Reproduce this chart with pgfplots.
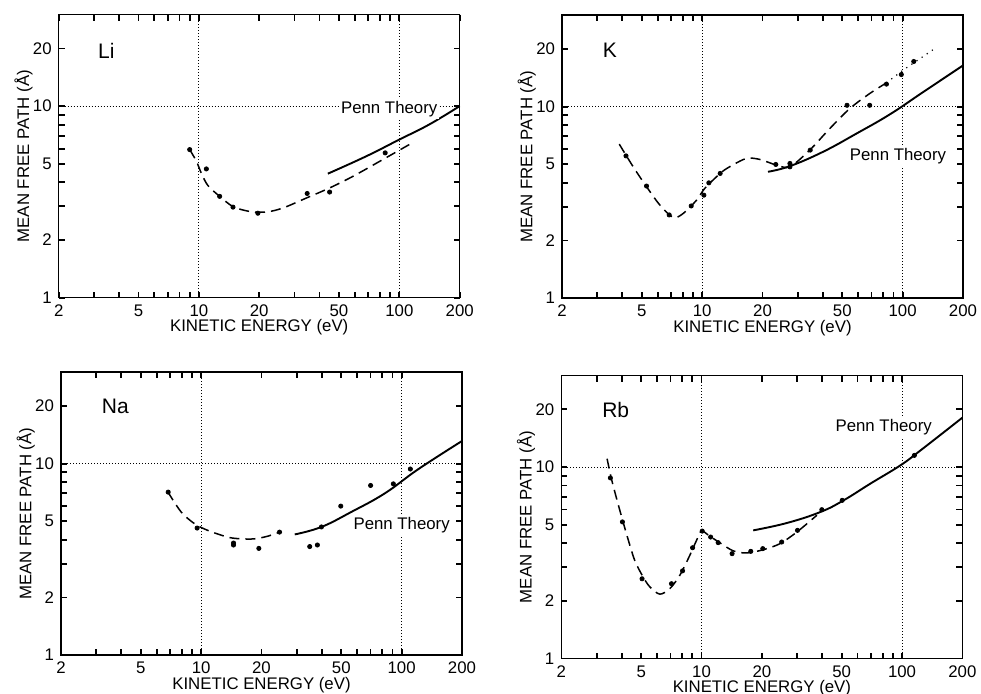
\documentclass[border=0pt]{standalone}
\usepackage{fontspec}
\setmainfont{Liberation Sans}
\usepackage{pgfplots}
\pgfplotsset{compat=1.18}

\tikzset{
  mfpgrid/.style={black, line width=0.5pt, dash pattern=on 0.5pt off 1pt},
  mfpexp/.style={black, line width=0.75pt, smooth, tension=0.5, dash pattern=on 5pt off 3pt},
  mfppenn/.style={black, line width=0.95pt, smooth, tension=0.7},
  mfpelem/.style={font=\fontsize{10.5}{12}\selectfont, anchor=west},
  mfplab/.style={fill=white, inner sep=1pt, font=\fontsize{8.4}{10}\selectfont},
  mfpfont/.style={font=\fontsize{8.4}{10}\selectfont},
}

\begin{document}
\begin{tikzpicture}
\useasboundingbox (0,0) rectangle (490.5pt,-347pt);

% Li
\begin{axis}[xmode=log, ymode=log, clip=false, at={(29.35pt,-148.85pt)}, anchor=south west,
  scale only axis, width=200.5pt, height=141.5pt, xmin=2, xmax=200, ymin=1, ymax=30,
  xtick={2,5,10,20,50,100,200}, xticklabels={2,5,10,20,50,100,200},
  minor xtick={3,4,6,7,8,9,30,40,60,70,80,90},
  ytick={1,2,5,10,20}, yticklabels={1,2,5,10,20}, minor ytick={3,4,6,7,8,9},
  tick align=inside, major tick length=3pt, minor tick length=3pt,
  tick style={black, line width=0.9pt}, axis line style={line width=0.75pt},
  tick label style={mfpfont},
  xlabel={KINETIC ENERGY (eV)}, ylabel={MEAN FREE PATH (Å)},
  x label style={at={(axis description cs:0.5,0)}, anchor=base, yshift=-17pt, mfpfont},
  y label style={at={(axis description cs:-0.074,0.5)}, anchor=base, mfpfont}]
\addplot[mfpgrid] coordinates {(10,1) (10,30)};
\addplot[mfpgrid] coordinates {(100,1) (100,30)};
\addplot[mfpgrid] coordinates {(2,10) (200,10)};
\addplot[mfpexp] coordinates {(9.0,5.93) (9.73,5.15) (10.3,4.45) (11.1,3.85) (12.7,3.38) (14.8,2.99) (17.9,2.82) (21.7,2.80) (26.3,2.94) (34.3,3.31) (44.9,3.74) (58.7,4.30) (82.7,5.26) (114.5,6.38)};
\addplot[mfppenn] coordinates {(44,4.44) (68.3,5.47) (100,6.69) (141,8.02) (200,10.0)};
\addplot[only marks, mark=*, mark size=1.05pt, black] coordinates {(9.0,5.93) (10.9,4.70) (12.7,3.38) (14.8,2.97) (19.7,2.76) (34.7,3.50) (44.9,3.56) (85,5.70)};
\node[mfpelem] at (axis cs:2.9,19.4) {Li};
\node[mfplab] at (axis cs:89,9.68) {Penn Theory};
\end{axis}

% K
\begin{axis}[xmode=log, ymode=log, clip=false, at={(281pt,-149.1pt)}, anchor=south west,
  scale only axis, width=200.5pt, height=141.5pt, xmin=2, xmax=200, ymin=1, ymax=30,
  xtick={2,5,10,20,50,100,200}, xticklabels={2,5,10,20,50,100,200},
  minor xtick={3,4,6,7,8,9,30,40,60,70,80,90},
  ytick={1,2,5,10,20}, yticklabels={1,2,5,10,20}, minor ytick={3,4,6,7,8,9},
  tick align=inside, major tick length=3pt, minor tick length=3pt,
  tick style={black, line width=0.9pt}, axis line style={line width=0.75pt},
  tick label style={mfpfont},
  xlabel={KINETIC ENERGY (eV)}, ylabel={MEAN FREE PATH (Å)},
  x label style={at={(axis description cs:0.5,0)}, anchor=base, yshift=-17pt, mfpfont},
  y label style={at={(axis description cs:-0.074,0.5)}, anchor=base, mfpfont}]
\addplot[mfpgrid] coordinates {(10,1) (10,30)};
\addplot[mfpgrid] coordinates {(100,1) (100,30)};
\addplot[mfpgrid] coordinates {(2,10) (200,10)};
\addplot[mfpexp] coordinates {(3.86,6.37) (4.53,4.85) (5.28,3.82) (6.16,3.06) (7.17,2.64) (8.05,2.77) (9.38,3.25) (10.3,3.74) (12.3,4.48) (13.7,4.85) (16.6,5.36) (19.4,5.30) (23.5,4.95) (27.4,4.85) (34.4,5.93) (43.3,7.68) (54.5,9.77) (68.5,11.7) (83,13.3)};
\addplot[black, line width=0.6pt, dash pattern=on 0.6pt off 2.5pt] coordinates {(83,13.3) (100.5,15.5) (141.6,19.8)};
\addplot[mfppenn] coordinates {(21.3,4.57) (27.4,4.89) (40.1,5.81) (58.8,7.23) (86.2,9.10) (126.4,11.9) (200,16.4)};
\addplot[only marks, mark=*, mark size=1.05pt, black] coordinates {(4.17,5.53) (5.28,3.85) (6.85,2.72) (8.82,3.03) (10.2,3.45) (10.8,4.0) (12.3,4.48) (23.3,4.99) (27.4,5.05) (27.4,4.85) (34.6,5.93) (52.8,10.16) (68.5,10.16) (83,13.1) (98.5,14.7) (113.6,17.2)};
\node[mfpelem] at (axis cs:2.95,19.7) {K};
\node[mfplab] at (axis cs:94.8,5.53) {Penn Theory};
\end{axis}

% Na
\begin{axis}[xmode=log, ymode=log, clip=false, at={(30.5pt,-327.6pt)}, anchor=south west,
  scale only axis, width=200.5pt, height=141.5pt, xmin=2, xmax=200, ymin=1, ymax=30,
  xtick={2,5,10,20,50,100,200}, xticklabels={2,5,10,20,50,100,200},
  minor xtick={3,4,6,7,8,9,30,40,60,70,80,90},
  ytick={1,2,5,10,20}, yticklabels={1,2,5,10,20}, minor ytick={3,4,6,7,8,9},
  tick align=inside, major tick length=3pt, minor tick length=3pt,
  tick style={black, line width=0.9pt}, axis line style={line width=0.75pt},
  tick label style={mfpfont},
  xlabel={KINETIC ENERGY (eV)}, ylabel={MEAN FREE PATH (Å)},
  x label style={at={(axis description cs:0.5,0)}, anchor=base, yshift=-17pt, mfpfont},
  y label style={at={(axis description cs:-0.074,0.5)}, anchor=base, mfpfont}]
\addplot[mfpgrid] coordinates {(10,1) (10,30)};
\addplot[mfpgrid] coordinates {(100,1) (100,30)};
\addplot[mfpgrid] coordinates {(2,10) (200,10)};
\addplot[mfpexp] coordinates {(6.81,7.14) (7.94,5.60) (9.26,4.86) (10.8,4.48) (13.6,4.13) (15.8,4.05) (18.5,4.05) (21.5,4.18) (24.6,4.39)};
\addplot[mfppenn] coordinates {(29.3,4.27) (39.8,4.67) (56.2,5.60) (82.5,7.0) (121,9.35) (199.5,13.1)};
\addplot[only marks, mark=*, mark size=1.05pt, black] coordinates {(6.85,7.1) (9.55,4.61) (14.5,3.76) (14.5,3.85) (19.4,3.61) (24.6,4.39) (34.8,3.69) (38.0,3.76) (39.8,4.67) (49.7,6.0) (70,7.69) (90.9,7.84) (110.5,9.37)};
\node[mfpelem] at (axis cs:2.95,20) {Na};
\node[mfplab] at (axis cs:100,4.8) {Penn Theory};
\end{axis}

% Rb
\begin{axis}[xmode=log, ymode=log, clip=false, at={(280.7pt,-329.3pt)}, anchor=south west,
  scale only axis, width=200.5pt, height=141.5pt, xmin=2, xmax=200, ymin=1, ymax=30,
  xtick={2,5,10,20,50,100,200}, xticklabels={2,5,10,20,50,100,200},
  minor xtick={3,4,6,7,8,9,30,40,60,70,80,90},
  ytick={1,2,5,10,20}, yticklabels={1,2,5,10,20}, minor ytick={3,4,6,7,8,9},
  tick align=inside, major tick length=3pt, minor tick length=3pt,
  tick style={black, line width=0.9pt}, axis line style={line width=0.75pt},
  tick label style={mfpfont},
  xlabel={KINETIC ENERGY (eV)}, ylabel={MEAN FREE PATH (Å)},
  x label style={at={(axis description cs:0.5,0)}, anchor=base, yshift=-17pt, mfpfont},
  y label style={at={(axis description cs:-0.074,0.5)}, anchor=base, mfpfont}]
\addplot[mfpgrid] coordinates {(10,1) (10,30)};
\addplot[mfpgrid] coordinates {(100,1) (100,30)};
\addplot[mfpgrid] coordinates {(2,10) (200,10)};
\addplot[mfpexp] coordinates {(3.38,11.05) (3.55,8.7) (3.83,6.44) (4.22,4.49) (4.64,3.26) (5.11,2.67) (5.52,2.37) (6.19,2.17) (6.95,2.32) (7.79,2.72) (8.74,3.46) (9.44,4.14) (10,4.63) (11.0,4.35) (12.4,4.01) (14.4,3.65) (16.8,3.56) (20.3,3.70) (24.6,3.98) (29.9,4.58) (37.6,5.60)};
\addplot[mfppenn] coordinates {(18.1,4.67) (26.6,5.10) (39.1,5.82) (51.1,6.70) (69.5,8.19) (98.1,10.2) (123.5,12.2) (200,18.1)};
\addplot[only marks, mark=*, mark size=1.05pt, black] coordinates {(3.51,8.77) (4.03,5.17) (5.05,2.61) (7.08,2.46) (8.04,2.87) (9.02,3.79) (10.08,4.63) (11.1,4.31) (12.1,4.03) (14.2,3.53) (17.6,3.63) (20.2,3.75) (25.1,4.06) (30.1,4.67) (39.8,5.99) (50.3,6.70) (115.2,11.5)};
\node[mfpelem] at (axis cs:2.95,19.8) {Rb};
\node[mfplab] at (axis cs:81,16.2) {Penn Theory};
\end{axis}
\end{tikzpicture}
\end{document}
